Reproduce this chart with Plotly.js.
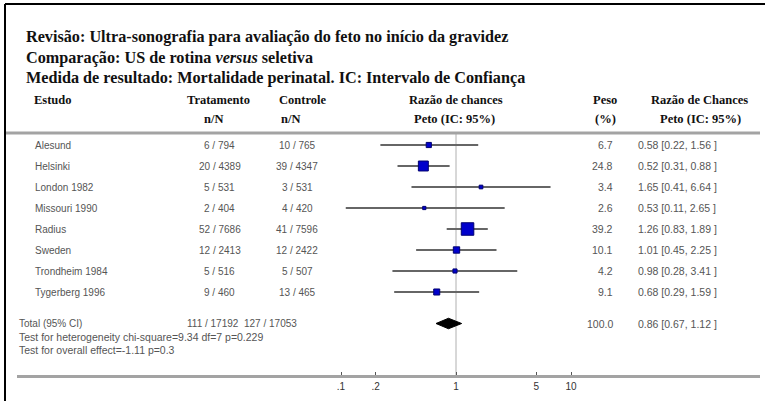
<!DOCTYPE html>
<html>
<head>
<meta charset="utf-8">
<script src="https://cdn.plot.ly/plotly-3.0.1.min.js"></script>
<style>html,body{margin:0;padding:0;background:#fff;}#chart{width:765px;height:401px;}</style>
</head>
<body>
<div id="chart"></div>
<script>
// ---- data ----
const studies = ['Alesund','Helsinki','London 1982','Missouri 1990','Radius','Sweden','Trondheim 1984','Tygerberg 1996'];
const treatment = ['6 / 794','20 / 4389','5 / 531','2 / 404','52 / 7686','12 / 2413','5 / 516','9 / 460'];
const control = ['10 / 765','39 / 4347','3 / 531','4 / 420','41 / 7596','12 / 2422','5 / 507','13 / 465'];
const weights = [6.7, 24.8, 3.4, 2.6, 39.2, 10.1, 4.2, 9.1];
const oddsRatio = [0.58, 0.52, 1.65, 0.53, 1.26, 1.01, 0.98, 0.68];
const ciLow = [0.22, 0.31, 0.41, 0.11, 0.83, 0.45, 0.28, 0.29];
const ciHigh = [1.56, 0.88, 6.64, 2.65, 1.89, 2.25, 3.41, 1.59];
const totalLabel = 'Total (95% CI)';
const totalTreatment = '111 / 17192';
const totalControl = '127 / 17053';
const totalWeight = 100.0;
const totalOR = 0.86, totalLow = 0.67, totalHigh = 1.12;
const heterogeneityText = 'Test for heterogeneity chi-square=9.34 df=7 p=0.229';
const overallText = 'Test for overall effect=-1.11 p=0.3';
const tickVals = [0.1, 0.2, 1, 5, 10];
const tickLabels = ['.1', '.2', '1', '5', '10'];
const titleLines = [
  'Revisão: Ultra-sonografia para avaliação do feto no início da gravidez',
  'Comparação: US de rotina <i>versus</i> seletiva',
  'Medida de resultado: Mortalidade perinatal. IC: Intervalo de Confiança'
];

// ---- layout helpers ----
const W = 765, H = 401;
const px = x => x / W;
const py = y => 1 - y / H;
const rowY = studies.map((s, i) => i);
const totalRow = 8.5;

const serif = 'Liberation Serif, Times New Roman, serif';
const sans = 'Liberation Sans, Arial, sans-serif';
const dataFont = {family: sans, size: 10, color: '#555'};
const numFont = {family: sans, size: 10.5, color: '#555'};
const headFont = {family: serif, size: 12.5, color: '#111'};

const ann = [];
function A(text, x, y, opts) {
  ann.push(Object.assign({text: text, x: x, y: y, xref: 'paper', yref: 'y', showarrow: false,
    xanchor: 'left', yanchor: 'middle', font: dataFont}, opts || {}));
}
// titles
const titleY = [37, 58, 78];
titleLines.forEach((t, i) => A('<b>' + t + '</b>', px(24), py(titleY[i]), {yref: 'paper', font: {family: serif, size: 16.2, color: '#111'}}));
// headers
const h1 = 100, h2 = 119;
A('<b>Estudo</b>', px(32), py(h1), {yref: 'paper', font: headFont});
A('<b>Tratamento</b>', px(218), py(h1), {yref: 'paper', xanchor: 'center', font: headFont});
A('<b>n/N</b>', px(213), py(h2), {yref: 'paper', xanchor: 'center', font: headFont});
A('<b>Controle</b>', px(302), py(h1), {yref: 'paper', xanchor: 'center', font: headFont});
A('<b>n/N</b>', px(290), py(h2), {yref: 'paper', xanchor: 'center', font: headFont});
A('<b>Razão de chances</b>', px(456), py(h1), {yref: 'paper', xanchor: 'center', font: headFont});
A('<b>Peto (IC: 95%)</b>', px(454), py(h2), {yref: 'paper', xanchor: 'center', font: headFont});
A('<b>Peso</b>', px(605), py(h1), {yref: 'paper', xanchor: 'center', font: headFont});
A('<b>(%)</b>', px(605), py(h2), {yref: 'paper', xanchor: 'center', font: headFont});
A('<b>Razão de Chances</b>', px(699), py(h1), {yref: 'paper', xanchor: 'center', font: headFont});
A('<b>Peto (IC: 95%)</b>', px(700), py(h2), {yref: 'paper', xanchor: 'center', font: headFont});

const fmtOR = (o, l, h) => o.toFixed(2) + ' [' + l.toFixed(2) + ', ' + h.toFixed(2) + ' ]';
studies.forEach((s, i) => {
  A(s, px(33), rowY[i]);
  A(treatment[i], px(220), rowY[i], {xanchor: 'center'});
  A(control[i], px(297), rowY[i], {xanchor: 'center'});
  A(weights[i].toFixed(1), px(615), rowY[i], {xanchor: 'right', font: numFont});
  A(fmtOR(oddsRatio[i], ciLow[i], ciHigh[i]), px(636), rowY[i], {font: numFont});
});
A(totalLabel, px(17), totalRow);
A(totalTreatment, px(213), totalRow, {xanchor: 'center'});
A(totalControl, px(270), totalRow, {xanchor: 'center'});
A(totalWeight.toFixed(1), px(615), totalRow, {xanchor: 'right', font: numFont});
A(fmtOR(totalOR, totalLow, totalHigh), px(636), totalRow, {font: numFont});
A(heterogeneityText, px(17), 9.12, {font: numFont});
A(overallText, px(17), 9.74, {font: numFont});

// ---- traces ----
const studyTrace = {
  type: 'scatter', mode: 'markers',
  x: oddsRatio, y: rowY,
  error_x: {type: 'data', symmetric: false,
    array: oddsRatio.map((o, i) => ciHigh[i] - o),
    arrayminus: oddsRatio.map((o, i) => o - ciLow[i]),
    color: '#666', thickness: 1.8, width: 0},
  marker: {symbol: 'square', size: weights.map(w => Math.sqrt(w) * 2), color: '#0000cc', opacity: 1,
    line: {color: '#000070', width: 1}},
  hoverinfo: 'skip', showlegend: false
};
const dh = 0.25;
const diamond = {
  type: 'scatter', mode: 'lines', fill: 'toself',
  x: [totalLow, totalOR, totalHigh, totalOR, totalLow],
  y: [totalRow, totalRow - dh, totalRow, totalRow + dh, totalRow],
  line: {color: '#000', width: 1}, fillcolor: '#000',
  hoverinfo: 'skip', showlegend: false
};

// ---- axes ----
const pxPerDecade = 115, oneX = 456, domL = 17, domR = 760;
const layout = {
  width: W, height: H,
  margin: {l: 0, r: 0, t: 0, b: 0},
  paper_bgcolor: '#fff', plot_bgcolor: 'rgba(0,0,0,0)',
  showlegend: false,
  xaxis: {type: 'log', domain: [px(domL), px(domR)],
    range: [(domL - oneX) / pxPerDecade, (domR - oneX) / pxPerDecade],
    anchor: 'free', position: 1 - 376 / H,
    showgrid: false, zeroline: false,
    showline: true, linecolor: '#a3a3a3', linewidth: 3,
    tickmode: 'array', tickvals: tickVals, ticktext: tickLabels,
    ticks: 'inside', ticklen: 3, tickwidth: 1, tickcolor: '#555',
    tickfont: {family: sans, size: 10, color: '#333'}},
  yaxis: {range: [(H - 145) / 21, -145 / 21], visible: false, showgrid: false, zeroline: false},
  shapes: [
    {type: 'line', xref: 'paper', yref: 'paper', x0: px(5), x1: px(760), y0: py(133), y1: py(133), line: {color: '#a3a3a3', width: 3}},
    {type: 'line', layer: 'below', xref: 'x', yref: 'paper', x0: 1, x1: 1, y0: py(134), y1: py(375), line: {color: '#b0b0b0', width: 1}},
    {type: 'line', xref: 'paper', yref: 'paper', x0: px(5), x1: 1, y0: py(4), y1: py(4), line: {color: '#000', width: 2}},
    {type: 'line', xref: 'paper', yref: 'paper', x0: px(5), x1: px(5), y0: py(4), y1: 0, line: {color: '#000', width: 2}}
  ],
  annotations: ann
};

Plotly.newPlot('chart', [studyTrace, diamond], layout, {staticPlot: true, displayModeBar: false});
</script>
</body>
</html>
